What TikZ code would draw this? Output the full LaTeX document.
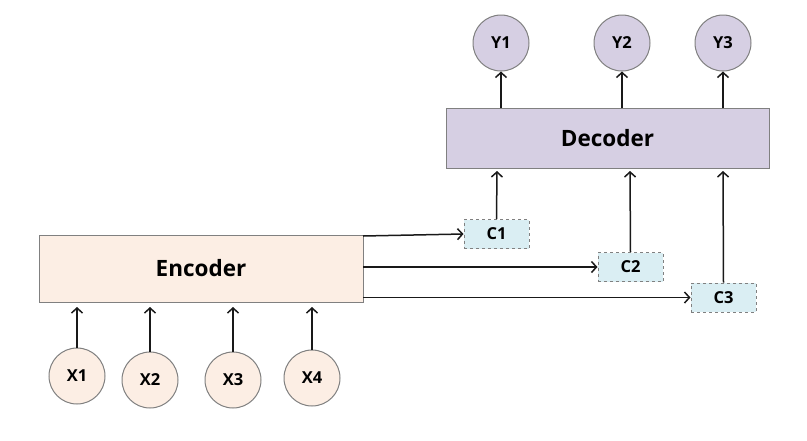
\documentclass[tikz,border=0pt]{standalone}
\usepackage{fontspec}
\setmainfont{Open Sans}
\usetikzlibrary{arrows.meta}
\definecolor{decfill}{RGB}{214,207,227}
\definecolor{encfill}{RGB}{252,238,228}
\definecolor{cfill}{RGB}{218,238,243}
\definecolor{edge}{RGB}{128,128,128}
\definecolor{ink}{RGB}{25,25,25}
\tikzset{
  bigbox/.style={draw=edge, line width=1pt, inner sep=0pt, font=\bfseries\fontsize{22.5}{26}\selectfont},
  decbox/.style={bigbox, fill=decfill, minimum width=323pt, minimum height=60pt},
  encbox/.style={bigbox, fill=encfill, minimum width=324pt, minimum height=67pt},
  ycirc/.style={circle, draw=edge, line width=1pt, fill=decfill, minimum size=56pt, inner sep=0pt, font=\bfseries\fontsize{16.5}{19}\selectfont},
  xcirc/.style={ycirc, fill=encfill},
  cbox/.style={draw=edge, dashed, line width=1pt, fill=cfill, minimum width=65pt, minimum height=29pt, inner sep=0pt, font=\bfseries\fontsize{16.5}{19}\selectfont},
  conn/.style={draw=ink, line width=1.5pt, -{Straight Barb[length=5pt,width=11pt]}}
}
\begin{document}
\begin{tikzpicture}[x=1pt,y=-1pt]
\useasboundingbox (0,0) rectangle (807,440);
% decoder
\node[decbox] (dec) at (607.5,138) {Decoder};
\node[ycirc] (y1) at (501,43) {Y1};
\node[ycirc] (y2) at (622,43) {Y2};
\node[ycirc] (y3) at (723,43) {Y3};
% encoder
\node[encbox] (enc) at (201,268.5) {Encoder};
\node[xcirc] (x1) at (77,376) {X1};
\node[xcirc] (x2) at (150,380) {X2};
\node[xcirc] (x3) at (233,380) {X3};
\node[xcirc] (x4) at (312,378) {X4};
% contexts
\node[cbox] (c1) at (496.5,234) {C1};
\node[cbox] (c2) at (630.5,267) {C2};
\node[cbox] (c3) at (723.5,297.5) {C3};
% coordinates
\coordinate (e1) at (363,236);
\coordinate (e2) at (363,267);
\coordinate (e3) at (363,297.5);
% arrows
\foreach \i/\xx in {y1/501,y2/622,y3/723}{
  \draw[conn] (\xx,108) -- (\i.south);
}
\foreach \i/\xx in {x1/77,x2/150,x3/233,x4/312}{
  \draw[conn] (\i.north) -- (\xx,307);
}
\draw[conn] (e1) -- (c1.west);
\draw[conn] (e2) -- (c2.west);
\draw[conn] (e3) -- (c3.west);
\draw[conn] (c1.north) -- (497,171);
\draw[conn] (c2.north) -- (630,171);
\draw[conn] (c3.north) -- (723,171);
\end{tikzpicture}
\end{document}
